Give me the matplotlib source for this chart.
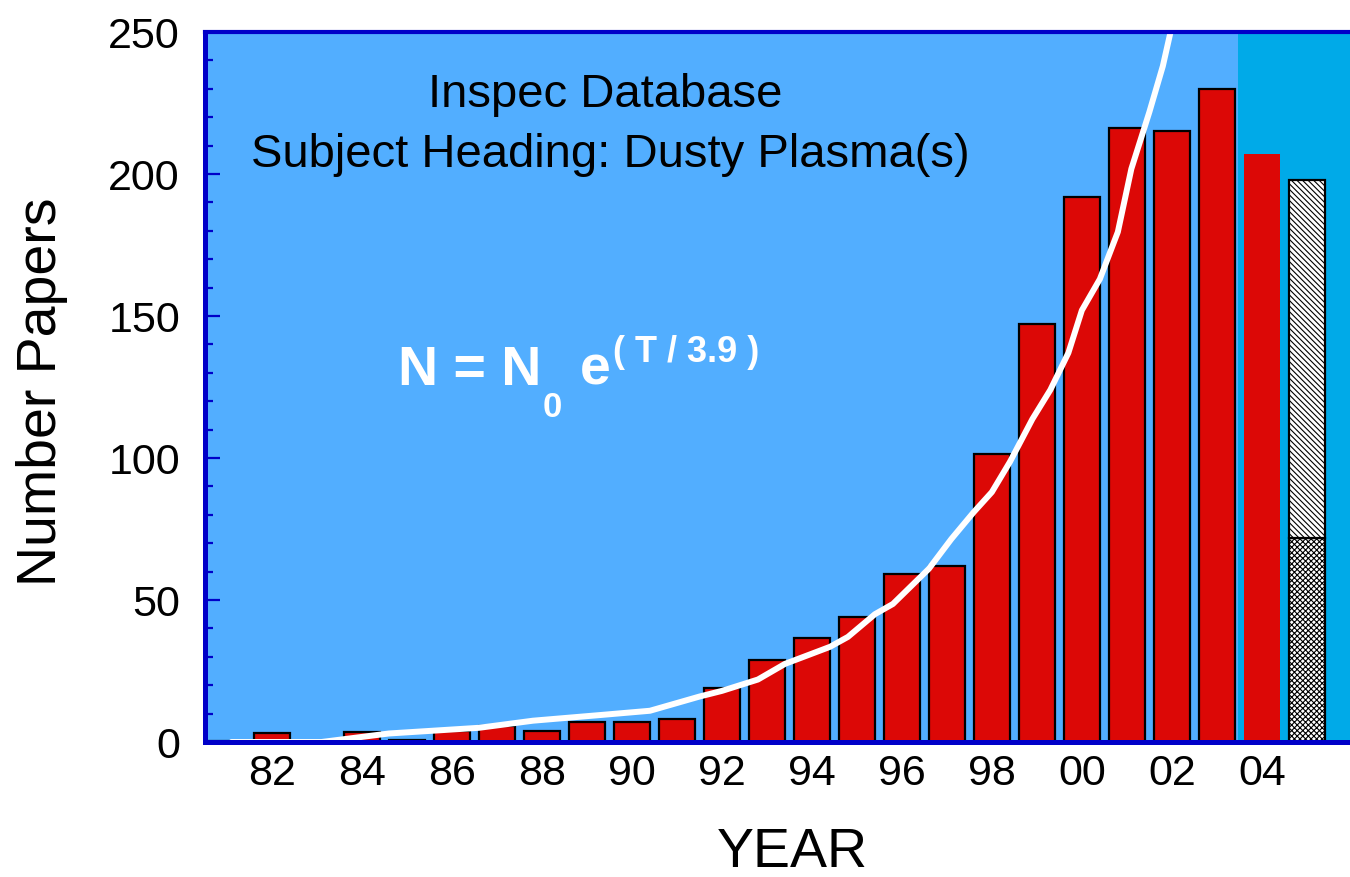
import matplotlib

matplotlib.use("Agg")
import matplotlib.pyplot as plt  # noqa: E402

# bar data (year -> number of papers)
years = list(range(1981, 2005))
papers = [0.5, 3.2, 0.5, 3.5, 0.7, 3.9, 5.5, 4.0, 7.1, 7.1, 8.1, 19.0, 28.9,
          36.6, 44.0, 59.0, 62.0, 101.4, 147.2, 191.9, 216.2, 215.1, 230.0, 207.0]

# projected year, split into two hatched parts
proj_year = 2005
proj_low = 72
proj_total = 198

# fitted exponential curve
fit_years = [1981.1, 1983.1, 1984.6, 1985.6, 1986.6, 1987.8, 1989.3, 1990.4,
             1991.5, 1992.0, 1992.8, 1993.4, 1994.4, 1994.8, 1995.4, 1995.8,
             1996.6, 1997.1, 1997.6, 1998.0, 1998.4, 1998.9, 1999.3, 1999.7,
             2000.0, 2000.4, 2000.8, 2001.1, 2001.5, 2001.8, 2002.0]
fit_vals = [0, 0, 3, 4, 5, 7.5, 9.5, 11, 16, 18, 22, 27.5, 33.5, 37, 45, 48.6,
            61, 71.5, 81, 88, 98.6, 113.7, 124, 137, 152, 163, 179.6, 201.8,
            221.8, 238, 252]

tick_years = list(range(1982, 2005, 2))
tick_labels = [f"{y % 100:02d}" for y in tick_years]

W, H = 1350, 878
LIGHT = "#52AEFF"
DARK = "#00AAE8"
RED = "#DC0806"
AXBLUE = "#0000C8"


def fx(px):
    return px / W


def fy(py):
    return 1 - py / H


plt.rcParams.update({"font.family": ["Liberation Sans", "DejaVu Sans"],
                     "hatch.linewidth": 0.8})

fig = plt.figure(figsize=(W / 100, H / 100), dpi=100)
ax = fig.add_axes([fx(205), fy(743), 1 - fx(205), (743 - 33) / H])
ax.set_facecolor(LIGHT)
ax.set_xlim(1980.51, 2005.96)
ax.set_ylim(0, 250)
ax.axvspan(2003.47, 2006.5, color=DARK, zorder=0, lw=0)

edge = ["black"] * (len(years) - 1) + ["none"]
ax.bar(years, papers, width=0.8, color=RED, edgecolor=edge, linewidth=1.6,
       zorder=2)
ax.bar([proj_year], [proj_low], width=0.8, color="white", edgecolor="black",
       hatch="xxxxxx", linewidth=1.6, zorder=2)
ax.bar([proj_year], [proj_total - proj_low], bottom=[proj_low], width=0.8,
       color="white", edgecolor="black", hatch="\\\\\\\\\\\\", linewidth=1.6,
       zorder=2)

ax.plot(fit_years, fit_vals, color="white", lw=4.3, zorder=3,
        solid_joinstyle="round", solid_capstyle="round")

for side in ("left", "bottom", "top"):
    ax.spines[side].set_color(AXBLUE)
    ax.spines[side].set_linewidth(3.6)
    ax.spines[side].set_zorder(5)
ax.spines["top"].set_linewidth(3.0)
ax.spines["right"].set_visible(False)

ax.set_yticks(range(0, 251, 50))
ax.set_yticks(range(0, 251, 10), minor=True)
ax.tick_params(axis="y", which="major", direction="in", length=11, width=1.6,
               color=AXBLUE, labelsize=31, pad=18)
ax.tick_params(axis="y", which="minor", direction="in", length=6, width=1.6,
               color=AXBLUE)
ax.tick_params(axis="y", right=False, which="both")
ax.set_xticks(tick_years, tick_labels)
ax.tick_params(axis="x", length=0, labelsize=31, pad=8)

fig.text(fx(42), fy(392), "Number Papers", rotation=90, ha="center",
         va="center", fontsize=40)
fig.text(fx(792), fy(853), "YEAR", ha="center", va="center", fontsize=40)

fig.text(fx(605), fy(95), "Inspec Database", ha="center", va="center",
         fontsize=34)
fig.text(fx(610), fy(155), "Subject Heading: Dusty Plasma(s)", ha="center",
         va="center", fontsize=34)

# formula, built from pieces
fig.text(fx(398), fy(385), "N = N", color="white", fontweight="bold",
         fontsize=40, va="baseline")
fig.text(fx(543), fy(417), "0", color="white", fontweight="bold",
         fontsize=25, va="baseline")
fig.text(fx(580), fy(385), "e", color="white", fontweight="bold",
         fontsize=40, va="baseline")
fig.text(fx(613), fy(362), "( T / 3.9 )", color="white", fontweight="bold",
         fontsize=26, va="baseline")

fig.savefig("out.png", dpi=100)
